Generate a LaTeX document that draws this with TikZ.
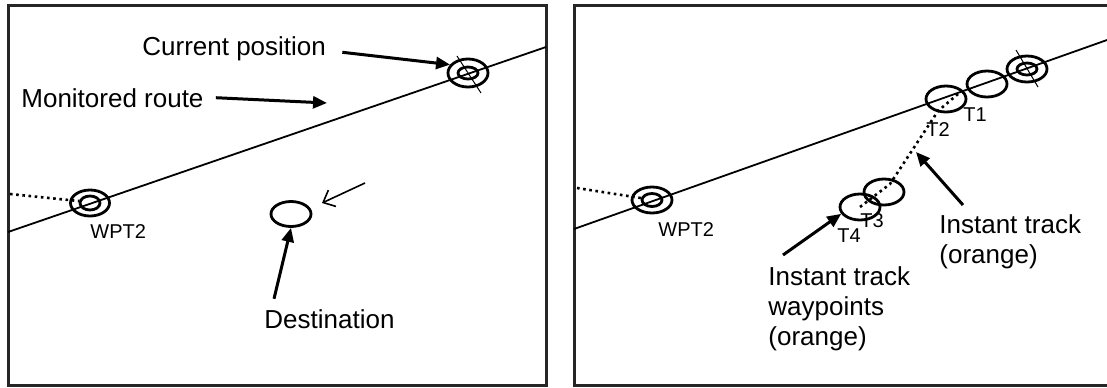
\documentclass[tikz,border=0pt]{standalone}
\usepackage{fontspec}
\setmainfont{Liberation Sans}
\usetikzlibrary{arrows.meta,positioning,shapes.geometric}

\begin{document}
\begin{tikzpicture}[
    x=0.5pt, y=-0.5pt,
    panel/.style={draw=black!85, line width=1.5pt},
    route/.style={line width=0.9pt},
    track/.style={line width=1.3pt, dash pattern=on 1.3pt off 1.8pt},
    ring/.style={draw, ellipse, line width=1.4pt, inner sep=0pt, minimum width=20pt, minimum height=13pt},
    hub/.style={ring, minimum width=10pt, minimum height=6.5pt},
    hair/.style={line width=0.5pt},
    txt/.style={font=\fontsize{13}{15}\selectfont, inner sep=0pt, anchor=base west, align=left},
    tag/.style={font=\fontsize{10}{12}\selectfont, inner sep=0pt, anchor=base west},
    pointer/.style={-{Triangle[length=7pt,width=6pt]}, line width=1.5pt},
    motion/.style={-{Straight Barb[length=5pt,width=9pt]}, line width=0.8pt}
  ]
  \useasboundingbox (0,0) rectangle (1107,387);

  % Left panel
  \draw[panel] (8,5) rectangle (546,385);
  \coordinate (la) at (8,232);
  \coordinate (lb) at (546,47);
  \draw[route] (la) -- (lb);

  \node[ring, minimum width=19.5pt] (lwpo) at (90,203) {};
  \node[hub, minimum height=7pt] (lwpi) at (90,203) {};
  \node[tag] (lwpl) at (90,238) {WPT2};
  \coordinate (ldot) at (10,194);
  \draw[track] (ldot) -- (lwpi.170);

  \node[ring, minimum height=14pt] (lcuro) at (468,73) {};
  \node[hub, minimum height=6pt] (lcuri) at (468,73) {};
  \draw[hair] ([shift={(-11,-17)}]lcuro.center) -- ([shift={(13,20)}]lcuro.center);

  \node[ring, minimum height=12.5pt] (dest) at (291,214) {};
  \coordinate (mvfrom) at (365,183);
  \coordinate (mvto) at (322,203);
  \draw[motion] (mvfrom) -- (mvto);

  \node[txt] (curlbl) at (142,55) {Current position};
  \node[txt] (mrlbl) at (21,107) {Monitored route};
  \node[txt] (destlbl) at (264,328) {Destination};
  \coordinate (mrtip) at (327,103);
  \draw[pointer] ([xshift=8pt,yshift=-2pt]curlbl.east) -- (lcuro.155);
  \draw[pointer] ([xshift=6pt]mrlbl.east) -- (mrtip);
  \draw[pointer] ([xshift=5pt,yshift=5pt]destlbl.north west) -- (dest.south);

  % Right panel
  \draw[panel] (1107,5) -- (574,5) -- (574,385) -- (1107,385);
  \coordinate (ra) at (574,229);
  \coordinate (rb) at (1107,40);
  \draw[route] (ra) -- (rb);

  \node[ring] (rwpo) at (652,200) {};
  \node[hub] (rwpi) at (652,200) {};
  \node[tag] (rwpl) at (658,236) {WPT2};
  \coordinate (rdot) at (577,188);
  \draw[track] (rdot) -- (rwpi.170);

  \node[ring] (rcuro) at (1027,69) {};
  \node[hub, minimum height=6pt] (rcuri) at (1027,69) {};
  \draw[hair] ([shift={(-11,-19)}]rcuro.center) -- ([shift={(11,18)}]rcuro.center);

  % Instant track waypoints
  \foreach \n/\x/\y in {1/987/84, 2/946/99, 3/884/192, 4/860/207} {
    \node[ring] (t\n) at (\x,\y) {};
  }
  \foreach \n/\x/\y in {1/963/121, 2/926/136, 3/860/227, 4/837/242} {
    \node[tag] (t\n l) at (\x,\y) {T\n};
  }
  \coordinate (trk0) at (958,94);
  \coordinate (trk1) at (938,111);
  \coordinate (trk2) at (890,184);
  \draw[track] (trk0) -- (trk1) -- (trk2) -- (t4.center);

  \node[txt, anchor=north west] (itlbl) at (939,214) {Instant track\\(orange)};
  \node[txt, anchor=north west] (wplbl) at (768,266) {Instant track\\waypoints\\(orange)};
  \coordinate (ittip) at (916,152);
  \draw[pointer] ([xshift=12pt,yshift=4.5pt]itlbl.north west) -- (ittip);
  \draw[pointer] ([xshift=7.5pt,yshift=5.5pt]wplbl.north west) -- (t4.200);
\end{tikzpicture}
\end{document}
